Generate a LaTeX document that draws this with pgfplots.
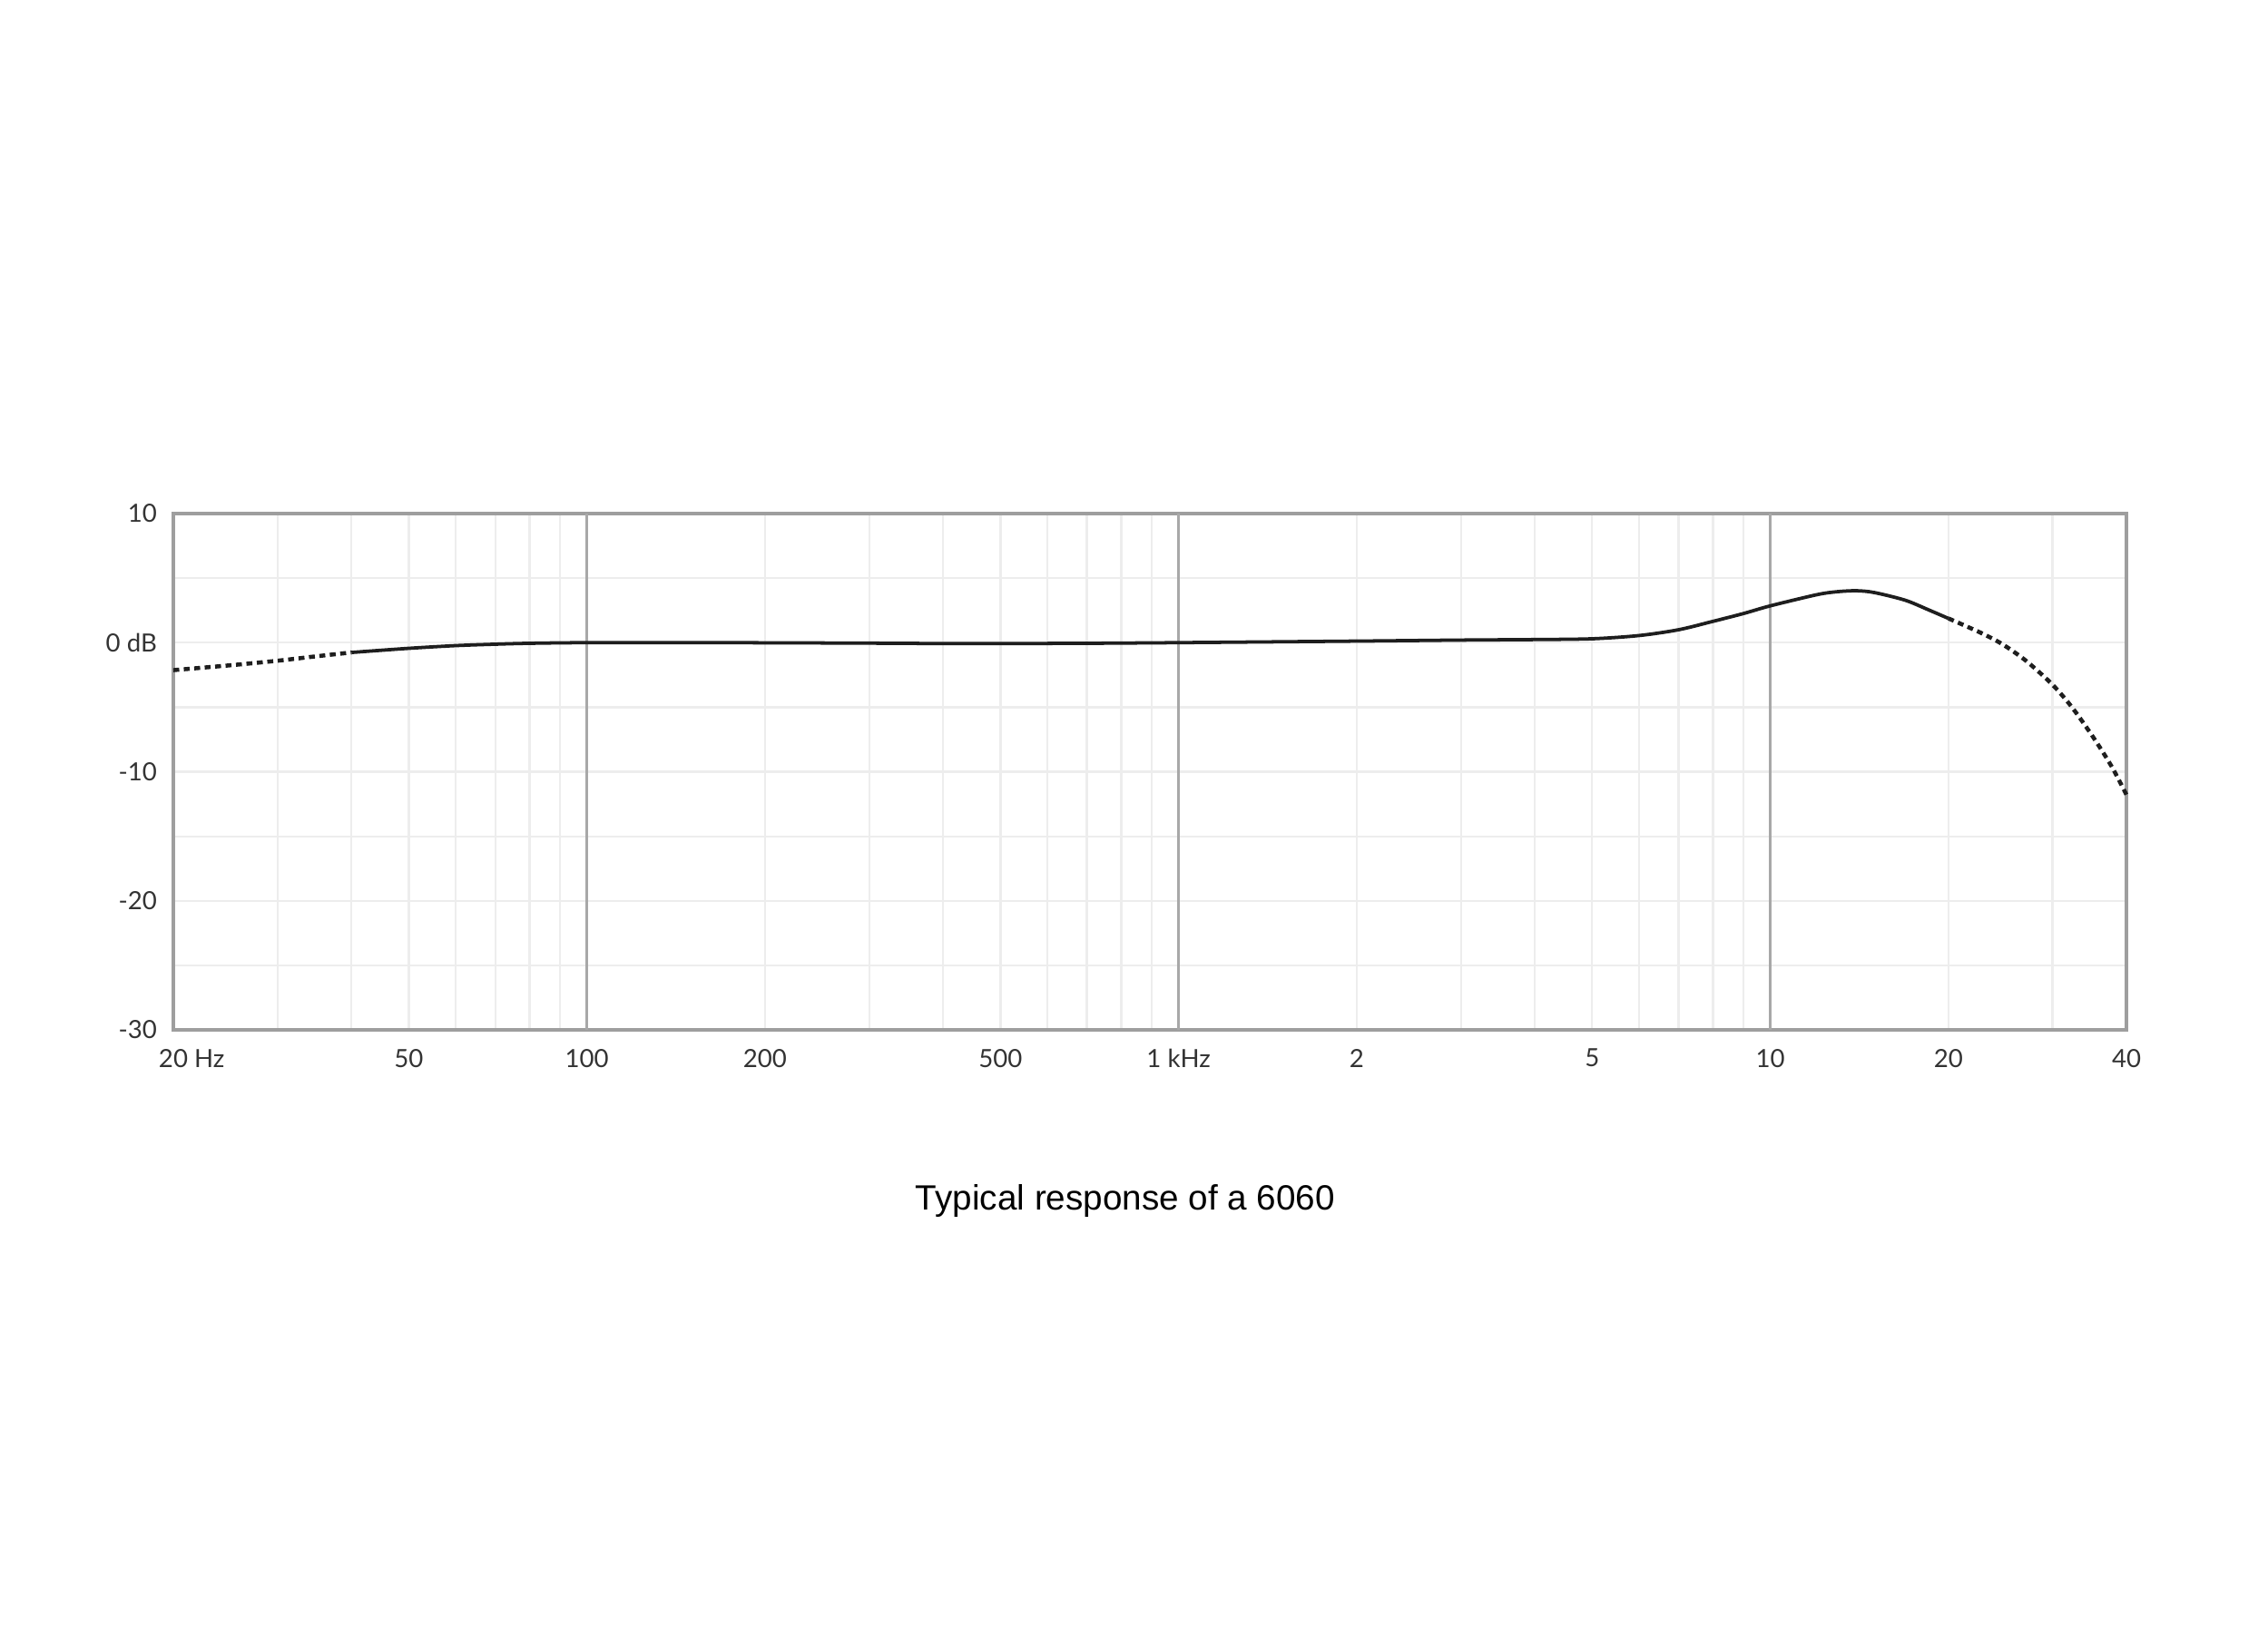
\documentclass[border=0pt]{standalone}
\usepackage{fontspec}
\setmainfont{Liberation Sans}
\newfontfamily\tickfont{Lato}
\usepackage{pgfplots}
\pgfplotsset{compat=1.18}
\definecolor{majgrid}{HTML}{A8A8A8}
\definecolor{mingrid}{HTML}{EDEDED}
\definecolor{framec}{HTML}{9E9E9E}
\definecolor{curvec}{HTML}{1E1E1E}
\definecolor{ticktext}{HTML}{333333}

\begin{document}
\begin{tikzpicture}
\path[use as bounding box] (0,0) rectangle (17.493cm,12.537cm);
\begin{axis}[
  at={(1.337cm,4.592cm)}, anchor=south west,
  scale only axis, width=15.064cm, height=3.983cm,
  xmode=log, log basis x=10,
  xmin=20, xmax=40000, ymin=-30, ymax=10,
  xtick={20,50,100,200,500,1000,2000,5000,10000,20000,40000},
  xticklabels={\phantom{~Hz}20~Hz,50,100,200,500,1~kHz,2,5,10,20,40},
  minor xtick={30,40,50,60,70,80,90,200,300,400,500,600,700,800,900,2000,3000,4000,5000,6000,7000,8000,9000,20000,30000},
  ytick={-30,-20,-10,0,10},
  yticklabels={-30,-20,-10,0 dB,10},
  minor ytick={-25,-15,-5,5},
  xmajorgrids=false, xminorgrids=true,
  ymajorgrids=true, yminorgrids=true,
  major grid style={mingrid, line width=0.45pt},
  minor grid style={mingrid, line width=0.45pt},
  extra x ticks={100,1000,10000},
  extra x tick labels={},
  extra x tick style={grid=major, major grid style={majgrid, line width=0.7pt}},
  major tick length=0pt, minor tick length=0pt,
  axis line style={framec, line width=0.65pt},
  ticklabel style={font=\tickfont\fontsize{5.5}{6.5}\selectfont, text=ticktext},
  yticklabel style={inner sep=0pt, xshift=-3.4pt},
  xticklabel style={inner sep=0pt, yshift=-4pt},
  clip=false,
]
\addplot[curvec, line width=0.9pt, dash pattern=on 1.3pt off 1.0pt, smooth] coordinates {
(20,-2.13) (25,-1.75) (30,-1.4) (35,-1.05) (40,-0.76)
};
\addplot[curvec, line width=0.75pt, smooth, tension=0.5] coordinates {
(40,-0.76) (50,-0.44) (60,-0.23) (70,-0.12) (80,-0.05) (100,0) (150,0.0) (200,-0.01)
(300,-0.04) (400,-0.07) (500,-0.07) (700,-0.05) (1000,0) (2000,0.12) (3000,0.2)
(4000,0.24) (5000,0.3) (6000,0.55) (7000,1.0) (8000,1.65) (9000,2.25) (10000,2.85)
(12000,3.72) (13000,3.95) (14000,4.02) (15000,3.88) (16900,3.29) (18500,2.55) (20000,1.88)
};
\addplot[curvec, line width=0.9pt, dash pattern=on 1.3pt off 1.0pt, smooth] coordinates {
(20000,1.88) (22700,0.76) (24700,-0.13) (27100,-1.43) (30000,-3.26) (32400,-5.04) (35200,-7.37) (37800,-9.63) (40000,-11.79)
};
\end{axis}
\node[font=\fontsize{7.7}{9}\selectfont, anchor=base] at (8.68cm,3.206cm) {Typical response of a 6060};
\end{tikzpicture}
\end{document}
